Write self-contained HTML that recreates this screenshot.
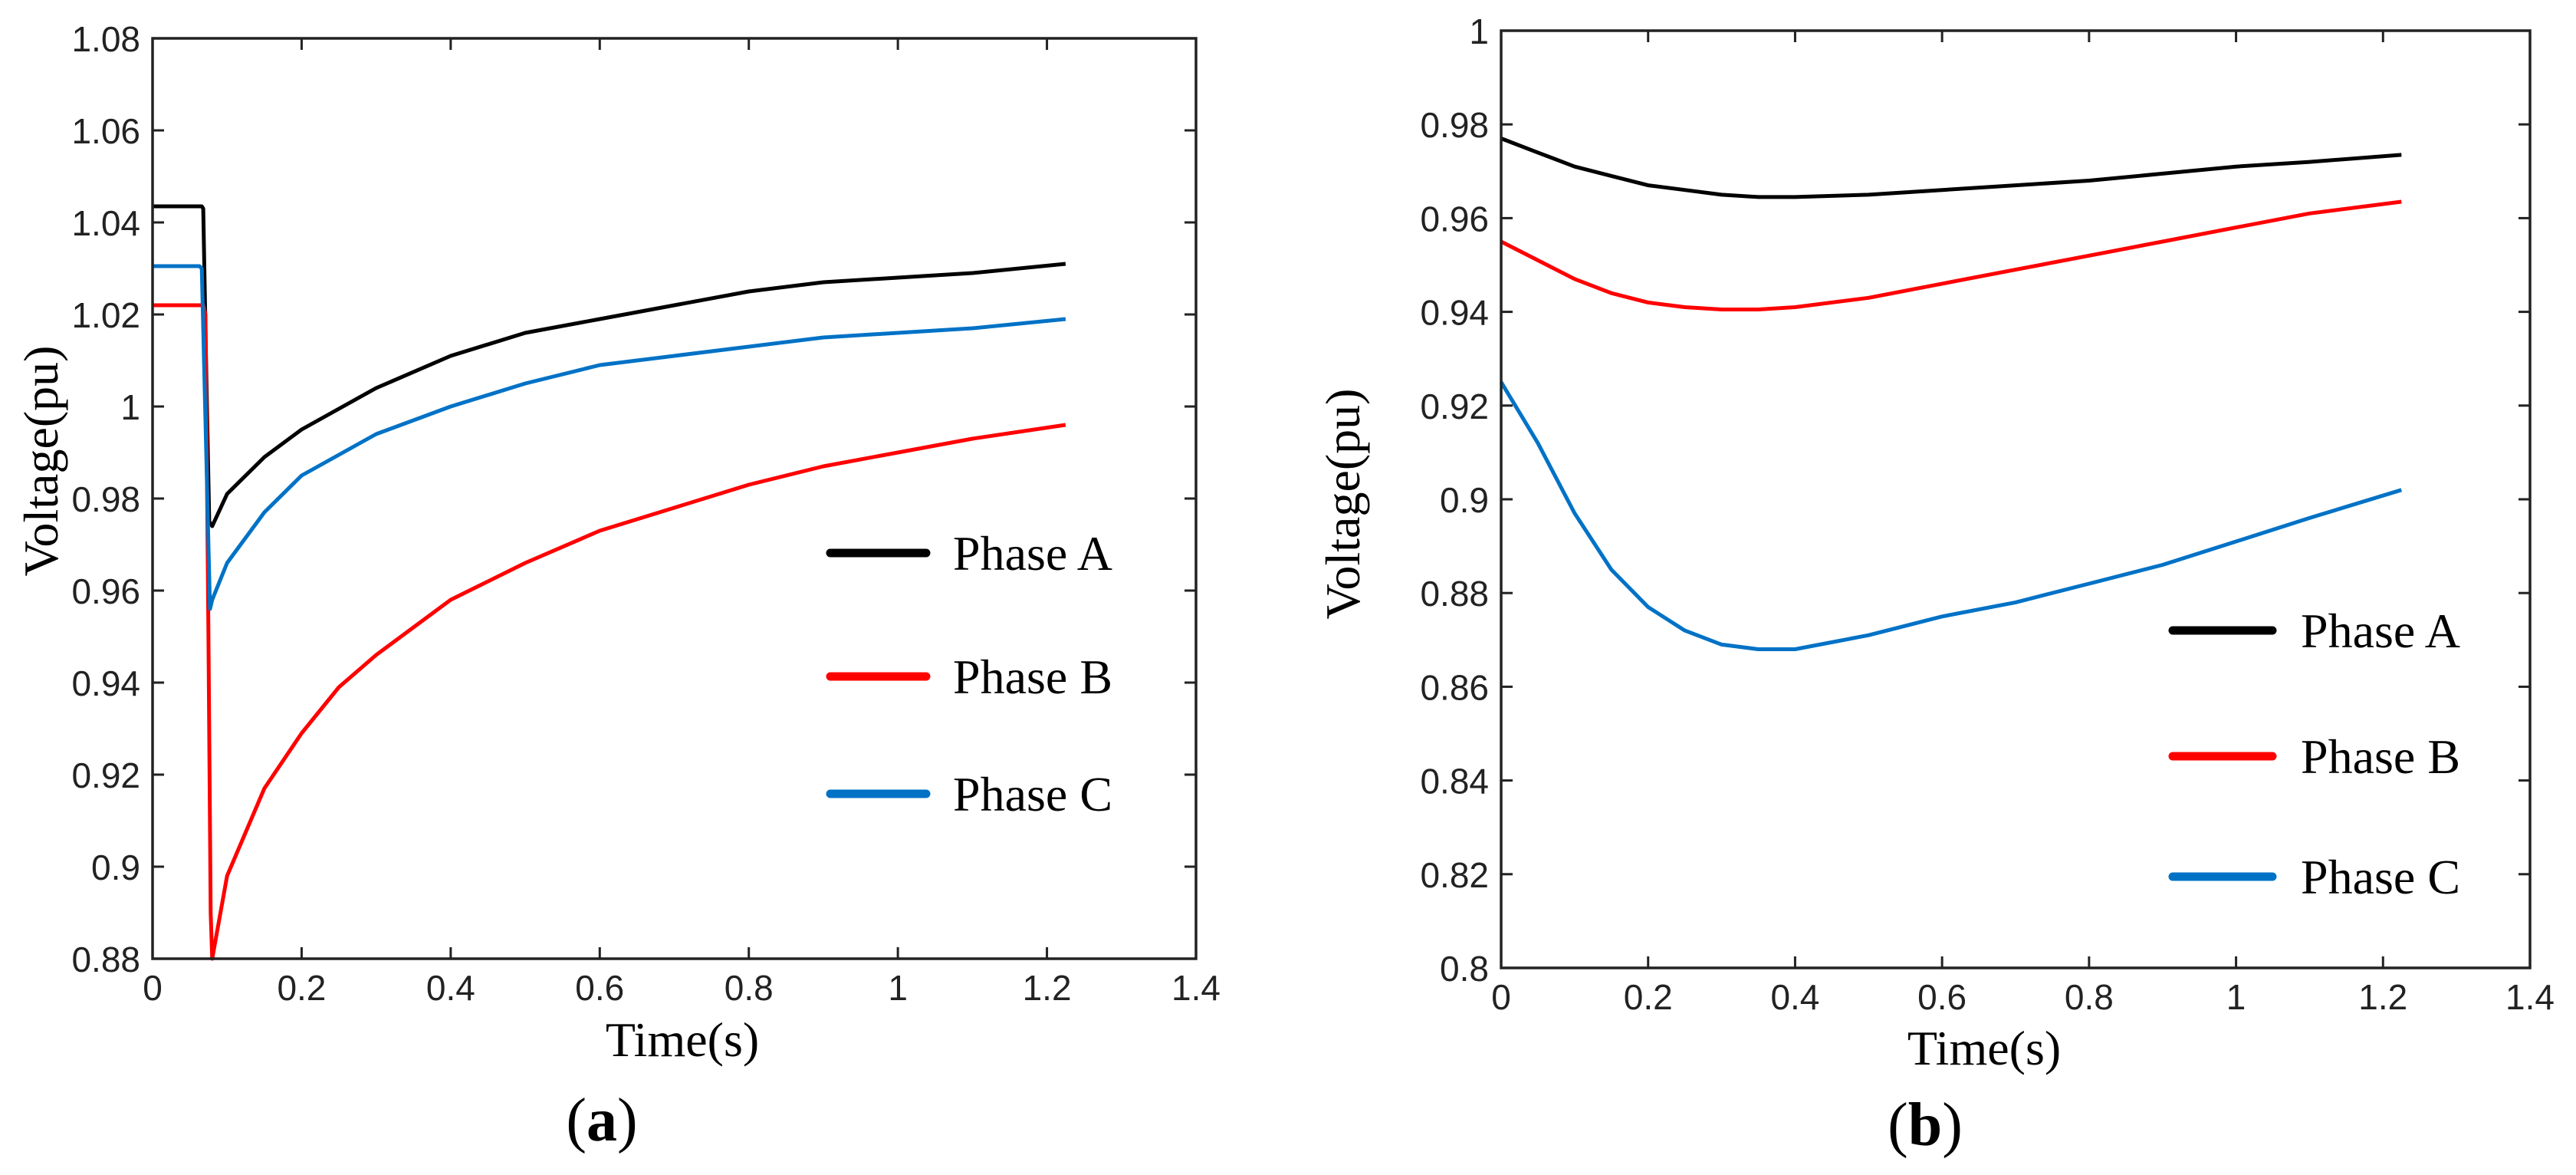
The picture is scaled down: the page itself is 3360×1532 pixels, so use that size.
<!DOCTYPE html>
<html><head><meta charset="utf-8"><style>
html,body{margin:0;padding:0;background:#fff;}
svg{display:block;}
.tk{font-family:"Liberation Sans",Arial,sans-serif;font-size:46px;fill:#222;}
.tt{font-family:"Liberation Serif","Times New Roman",serif;font-size:64px;fill:#000;}
</style></head><body>
<svg id="chart" width="3360" height="1532" viewBox="0 0 3360 1532" xmlns="http://www.w3.org/2000/svg"></svg>
<script>
// Panel (a) data
const aTime=[0,0.066,0.068,0.072,0.076,0.08,0.1,0.15,0.2,0.3,0.4,0.5,0.6,0.7,0.8,0.9,1.0,1.1,1.225];
const aPhaseA=[1.0435,1.0435,1.043,1.008,0.975,0.974,0.981,0.989,0.995,1.004,1.011,1.016,1.019,1.022,1.025,1.027,1.028,1.029,1.031];
const aPhaseCTime=[0,0.063,0.066,0.072,0.077,0.08,0.1,0.15,0.2,0.3,0.4,0.5,0.6,0.7,0.8,0.9,1.0,1.1,1.225];
const aPhaseC=[1.0305,1.0305,1.03,0.99,0.956,0.958,0.966,0.977,0.985,0.994,1.0,1.005,1.009,1.011,1.013,1.015,1.016,1.017,1.019];
const aPhaseBTime=[0,0.068,0.071,0.075,0.078,0.08,0.1,0.15,0.2,0.25,0.3,0.4,0.5,0.6,0.7,0.8,0.9,1.0,1.1,1.225];
const aPhaseB=[1.022,1.022,1.02,0.95,0.89,0.88,0.898,0.917,0.929,0.939,0.946,0.958,0.966,0.973,0.978,0.983,0.987,0.99,0.993,0.996];
// Panel (b) data
const bTime=[0,0.05,0.1,0.15,0.2,0.25,0.3,0.35,0.4,0.5,0.6,0.7,0.8,0.9,1.0,1.1,1.225];
const bPhaseA=[0.977,0.974,0.971,0.969,0.967,0.966,0.965,0.9645,0.9645,0.965,0.966,0.967,0.968,0.9695,0.971,0.972,0.9735];
const bPhaseB=[0.955,0.951,0.947,0.944,0.942,0.941,0.9405,0.9405,0.941,0.943,0.946,0.949,0.952,0.955,0.958,0.961,0.9635];
const bPhaseC=[0.925,0.912,0.897,0.885,0.877,0.872,0.869,0.868,0.868,0.871,0.875,0.878,0.882,0.886,0.891,0.896,0.902];
const xTicks=[0,0.2,0.4,0.6,0.8,1,1.2,1.4];
const xTickLabels=["0","0.2","0.4","0.6","0.8","1","1.2","1.4"];
const aYTicks=[0.88,0.9,0.92,0.94,0.96,0.98,1,1.02,1.04,1.06,1.08];
const aYTickLabels=["0.88","0.9","0.92","0.94","0.96","0.98","1","1.02","1.04","1.06","1.08"];
const bYTicks=[0.8,0.82,0.84,0.86,0.88,0.9,0.92,0.94,0.96,0.98,1];
const bYTickLabels=["0.8","0.82","0.84","0.86","0.88","0.9","0.92","0.94","0.96","0.98","1"];
const legendNames=["Phase A","Phase B","Phase C"];
const colors=["#000000","#ff0000","#0072c6"];

const NS="http://www.w3.org/2000/svg";
const svg=document.getElementById('chart');
function mk(tag,attrs,parent){const e=document.createElementNS(NS,tag);for(const k in attrs)e.setAttribute(k,attrs[k]);(parent||svg).appendChild(e);return e;}

function panel(cfg){
  const g=mk('g',{});
  
  
  const L=cfg.L,R=cfg.R,T=cfg.T,B=cfg.B;
  const sx=t=>L+(t-0)/(1.4-0)*(R-L);
  const sy=v=>B-(v-cfg.ymin)/(cfg.ymax-cfg.ymin)*(B-T);
  // series
  cfg.series.forEach((s,i)=>{
    const pts=s.t.map((t,j)=>sx(t).toFixed(1)+','+sy(s.v[j]).toFixed(1)).join(' ');
    const p=mk('polyline',{points:pts,fill:'none',stroke:colors[i],'stroke-width':5,'stroke-linejoin':'round'},g);
    
    
  });
  // box
  const box=mk('rect',{x:L,y:T,width:R-L,height:B-T,fill:'none',stroke:'#222','stroke-width':3.5},g);
  
  
  xTicks.forEach((t,i)=>{
    const x=sx(t);
    mk('line',{x1:x,y1:B,x2:x,y2:B-15,stroke:'#222','stroke-width':3},g);
    mk('line',{x1:x,y1:T,x2:x,y2:T+15,stroke:'#222','stroke-width':3},g);
    const tx=mk('text',{x:x,y:B+54,'text-anchor':'middle',class:'tk'},g);
    tx.textContent=xTickLabels[i];
    
    
  });
  cfg.yt.forEach((v,i)=>{
    const y=sy(v);
    mk('line',{x1:L,y1:y,x2:L+15,y2:y,stroke:'#222','stroke-width':3},g);
    mk('line',{x1:R,y1:y,x2:R-15,y2:y,stroke:'#222','stroke-width':3},g);
    const tx=mk('text',{x:L-16,y:y+17,'text-anchor':'end',class:'tk'},g);
    tx.textContent=cfg.ytl[i];
    
    
  });
  // titles
  const xt=mk('text',{x:cfg.xtX,y:cfg.xtY,'text-anchor':'middle',class:'tt'},g);
  xt.textContent='Time(s)';
  
  
  const yt=mk('text',{x:0,y:0,'text-anchor':'middle',class:'tt',transform:`translate(${cfg.ytX},${cfg.ytY}) rotate(-90)`},g);
  yt.textContent='Voltage(pu)';
  
  
  // legend
  cfg.legY.forEach((y,i)=>{
    const ln=mk('line',{x1:cfg.legX1,y1:y,x2:cfg.legX2,y2:y,stroke:colors[i],'stroke-width':11,'stroke-linecap':'round'},g);
    
    
    const tx=mk('text',{x:cfg.legTX,y:y+22,class:'tt'},g);
    tx.textContent=legendNames[i];
    
    
  });
  // caption
  const cap=mk('text',{x:cfg.capX,y:cfg.capY,'text-anchor':'middle',class:'tt',style:'font-size:80px'},g);
  cap.innerHTML='(<tspan font-weight="bold">'+cfg.cap+'</tspan>)';
  
  
}

panel({name:'panel-a',prefix:'a',L:199,R:1560,T:50,B:1250,ymin:0.88,ymax:1.08,yt:aYTicks,ytl:aYTickLabels,
  series:[{t:aTime,v:aPhaseA},{t:aPhaseBTime,v:aPhaseB},{t:aPhaseCTime,v:aPhaseC}],
  xtX:890,xtY:1377,ytX:75,ytY:601,legX1:1083,legX2:1208,legTX:1243,legY:[721,882,1035],capX:785,capY:1487,cap:'a'});
panel({name:'panel-b',prefix:'b',L:1958,R:3300,T:40,B:1262,ymin:0.8,ymax:1.0,yt:bYTicks,ytl:bYTickLabels,
  series:[{t:bTime,v:bPhaseA},{t:bTime,v:bPhaseB},{t:bTime,v:bPhaseC}],
  xtX:2588,xtY:1388,ytX:1773,ytY:657,legX1:2834,legX2:2964,legTX:3001,legY:[822,986,1143],capX:2511,capY:1493,cap:'b'});
</script>
</body></html>
